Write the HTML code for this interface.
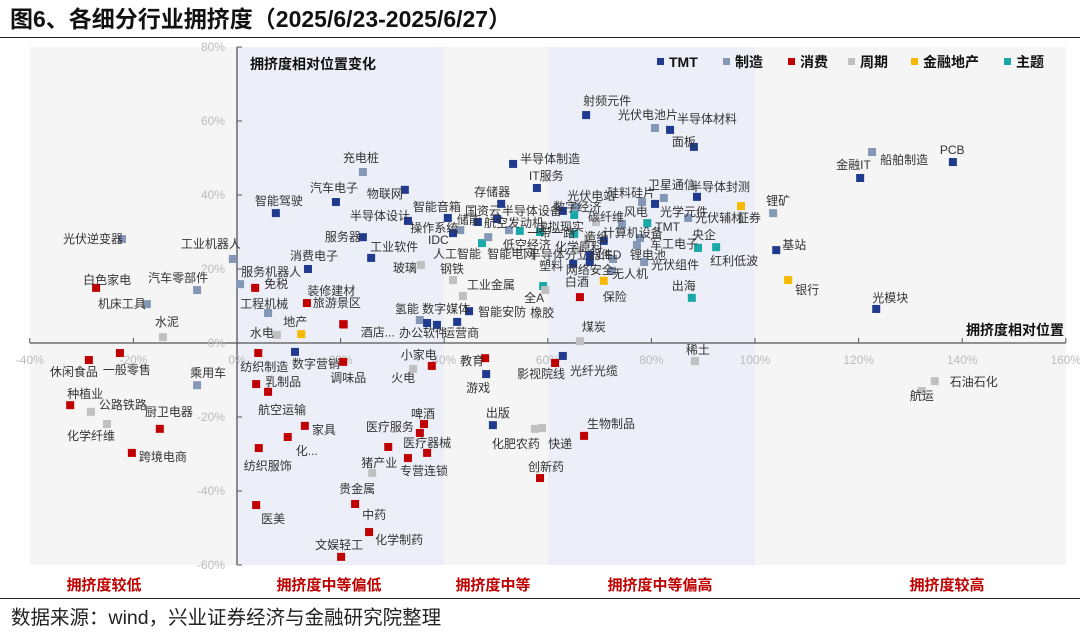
<!DOCTYPE html>
<html><head><meta charset="utf-8">
<style>
body{margin:0;background:#fff;width:1080px;height:635px;overflow:hidden;font-family:"Liberation Sans","Noto Sans CJK SC",sans-serif;}
svg text{font-family:"Liberation Sans","Noto Sans CJK SC",sans-serif;}
</style></head>
<body>
<svg id="chart" width="1080" height="635" viewBox="0 0 1080 635" xmlns="http://www.w3.org/2000/svg">
<text x="10" y="27" font-size="23" font-weight="bold" fill="#111">图6、各细分行业拥挤度（2025/6/23-2025/6/27）</text>
<line x1="0" y1="37.5" x2="1080" y2="37.5" stroke="#222" stroke-width="1"/>
<rect x="30" y="47" width="1036" height="518" fill="#f5f5f5"/>
<rect x="237" y="47" width="207" height="518" fill="#eceff7"/>
<rect x="548" y="47" width="207" height="518" fill="#eceff7"/>
<g id="axes"></g>
<g id="marks"></g>
<text x="250" y="69" font-size="14" font-weight="bold" fill="#111">拥挤度相对位置变化</text>
<text x="1064" y="335" font-size="14" font-weight="bold" fill="#111" text-anchor="end">拥挤度相对位置</text>
<g id="legend"></g>
<g font-size="15" font-weight="bold" fill="#c00000" text-anchor="middle">
<text x="104" y="590">拥挤度较低</text>
<text x="329" y="590">拥挤度中等偏低</text>
<text x="493" y="590">拥挤度中等</text>
<text x="660" y="590">拥挤度中等偏高</text>
<text x="947" y="590">拥挤度较高</text>
</g>
<line x1="0" y1="598.5" x2="1080" y2="598.5" stroke="#222" stroke-width="1"/>
<text x="11" y="624" font-size="19.5" fill="#222">数据来源：wind，兴业证券经济与金融研究院整理</text>
</svg>
<script>
const xTicks=[-40,-20,0,20,40,60,80,100,120,140,160];
const yTicks=[-60,-40,-20,0,20,40,60,80];
const catNames=["TMT","制造","消费","周期","金融地产","主题"];
const catKeys=["T","M","C","P","F","Z"];
const names=["光伏逆变器","白色家电","机床工具","汽车零部件","工业机器人","水泥","休闲食品","一般零售","乘用车","种植业","公路铁路","厨卫电器","化学纤维","跨境电商","充电桩","汽车电子","物联网","智能驾驶","半导体设计","智能音箱","操作系统","IDC","储能","存储器","国资云","航空发动机","服务器","工业软件","人工智能","智能电网","消费电子","玻璃","钢铁","服务机器人","免税","旅游景区","装修建材","酒店...","工程机械","工业金属","氢能","数字媒体","智能安防","地产","水电","办公软件","运营商","射频元件","光伏电池片","半导体材料","面板","半导体制造","IT服务","光伏电站","数字经济","半导体设备","硅料硅片","卫星通信","半导体封测","光学元件","TMT","风电","碳纤维","光伏辅材","证券","虚拟现实","一带一路","造纸","计算机设备","低空经济","化学原料","半导体分立器件","LED","锂电池","军工电子","光伏组件","央企","红利低波","塑料","网络安全","无人机","保险","白酒","全A","橡胶","出海","煤炭","稀土","锂矿","基站","银行","金融IT","船舶制造","PCB","光模块","石油石化","航运","纺织制造","数字营销","调味品","小家电","火电","教育","游戏","光纤光缆","影视院线","乳制品","航空运输","家具","化...","纺织服饰","啤酒","医疗服务","医疗器械","","专营连锁","猪产业","出版","化肥农药","快递","生物制品","创新药","贵金属","中药","医美","化学制药","文娱轻工"];
const cats=["M","C","M","M","M","P","C","C","M","C","P","C","P","C","M","T","T","T","T","T","M","T","T","T","T","M","T","T","Z","M","T","P","P","M","C","C","C","C","M","P","M","T","T","F","P","T","T","T","M","T","T","T","T","M","Z","T","M","M","T","T","Z","M","P","M","F","Z","Z","P","T","Z","P","T","M","M","M","M","Z","Z","T","T","M","F","C","Z","P","Z","P","P","M","T","F","T","M","T","T","P","P","C","T","C","C","P","C","T","T","C","C","C","C","C","C","C","C","C","C","C","P","T","P","P","C","C","P","C","C","C","C"];
const xVals=[-22.2,-27.2,-17.4,-7.7,-0.8,-14.3,-28.6,-22.6,-7.7,-32.2,-28.2,-14.9,-25.1,-20.3,24.3,19.1,32.4,7.5,33.0,40.7,43.1,41.7,46.5,51.0,50.2,52.5,24.3,25.9,47.3,48.5,13.7,35.5,41.7,0.6,3.5,13.5,20.5,20.6,6.0,43.6,35.3,36.7,44.8,12.4,7.7,38.6,42.5,67.4,80.7,83.6,88.2,53.3,57.9,65.3,65.1,62.9,78.2,82.4,88.8,80.7,79.2,74.3,69.3,87.1,97.3,58.5,65.1,67.8,70.8,54.6,65.8,68.1,72.6,77.2,77.8,78.6,89.0,92.5,64.9,68.1,72.4,70.8,66.2,59.1,59.5,87.8,66.2,88.4,103.5,104.1,106.4,120.3,122.6,138.2,123.4,134.7,132.2,4.1,11.2,20.5,37.6,34.0,47.9,48.1,62.9,61.4,3.7,6.0,13.1,9.8,4.2,36.1,35.3,36.7,29.2,33.0,26.1,49.4,57.5,58.9,67.0,58.5,22.8,22.8,3.7,25.5,20.1];
const yVals=[28.1,14.9,10.5,14.3,22.7,1.6,-4.6,-2.7,-11.4,-16.8,-18.6,-23.2,-21.9,-29.7,46.2,38.1,41.4,35.1,33.0,33.8,30.5,29.7,32.7,37.6,33.5,30.5,28.6,23.0,27.0,28.6,20.0,21.1,17.0,15.9,14.9,10.8,5.1,5.0,8.1,12.7,6.2,5.4,8.6,2.4,2.2,4.9,5.7,61.6,58.1,57.6,53.0,48.4,41.9,36.8,34.6,35.7,38.1,39.2,39.5,37.6,32.4,32.2,32.7,33.8,37.0,30.0,29.5,28.4,27.6,30.3,25.1,23.8,22.7,26.5,28.4,21.9,25.7,25.9,21.4,21.9,19.5,16.8,12.4,15.4,14.3,12.2,0.5,-4.9,35.1,25.1,17.0,44.6,51.6,48.9,9.2,-10.3,-13.0,-2.7,-2.4,-5.1,-6.2,-7.0,-4.1,-8.4,-3.5,-5.4,-11.1,-13.2,-22.4,-25.4,-28.4,-21.9,-24.3,-29.7,-28.1,-31.1,-35.1,-22.2,-23.2,-23.0,-25.1,-36.5,-43.5,-43.5,-43.8,-51.1,-57.8];
// label layout offsets (pixels relative to marker), not data
const labelDx=[-59,-13,-49,-49,-52,-8,-39,-17,-7,-3,8,-15,-40,7,-20,-26,-38,-21,-58,-35,-50,-25,-21,-27,-32,-25,-38,-1,-49,-1,-18,-28,-13,1,9,6,-36,17,-28,4,-25,-5,9,-18,-27,-38,-14,-3,-37,7,-22,7,-8,-8,-21,-61,-35,-16,-7,5,8,2,-8,7,-4,-4,-47,-4,-1,-17,-23,-61,-15,-7,10,7,-6,-6,-34,-24,0,-1,-15,-19,-15,-20,2,-9,-7,6,7,-24,8,-13,-4,15,-12,-18,-3,-13,-31,-22,-25,-20,7,-38,9,-10,7,8,-15,-13,-54,-24,0,-8,-11,-7,-43,6,3,-12,-16,7,5,6,-26];
const labelDy=[0,-8,0,-12,-15,-15,12,17,-12,-11,-7,-17,12,4,-14,-14,4,-12,-5,-11,-2,7,-2,-12,-8,-7,0,-11,11,17,-13,3,-11,-12,-4,0,-33,8,-9,-11,-11,-14,1,-12,-2,8,11,-14,-13,-11,-5,-5,-12,-11,-8,0,-9,-13,-10,8,4,-12,-5,0,12,-5,-1,-1,-8,14,-3,0,-4,10,6,3,-13,14,2,8,3,16,-15,12,23,-12,-14,-11,-12,-5,10,-13,8,-12,-11,1,5,14,12,16,-11,9,3,14,15,11,-2,18,4,14,18,-10,-6,-10,0,13,-10,-12,15,16,-12,-11,-15,11,14,8,-12];
const colors={T:"#1f3a8f",M:"#8497b6",C:"#c00000",P:"#c0c0c0",F:"#f7b900",Z:"#1aa8a8"};
const X0=237,XS=5.18,Y0=343,YS=3.7;
function sx(v){return X0+v*XS;}
function sy(v){return Y0-v*YS;}
const NS="http://www.w3.org/2000/svg";
function mk(tag,attrs,parent){const e=document.createElementNS(NS,tag);for(const k in attrs)e.setAttribute(k,attrs[k]);parent.appendChild(e);return e;}
const axes=document.getElementById('axes');
const yAxis=mk('line',{x1:sx(0),y1:sy(80),x2:sx(0),y2:sy(-60),stroke:"#555","stroke-width":1.3},axes);


const xAxis=mk('line',{x1:sx(-40),y1:sy(0),x2:sx(160),y2:sy(0),stroke:"#555","stroke-width":1.3},axes);


xTicks.forEach(v=>{
  const t=mk('line',{x1:sx(v),y1:sy(0),x2:sx(v),y2:sy(0)-5,stroke:"#555"},axes);
  
  
  const l=mk('text',{x:sx(v),y:sy(0)+21,"font-size":12,fill:"#bbb","text-anchor":"middle"},axes);
  l.textContent=v+"%";
  
  
});
yTicks.forEach(v=>{
  const t=mk('line',{x1:sx(0),y1:sy(v),x2:sx(0)+5,y2:sy(v),stroke:"#555"},axes);
  
  
  const l=mk('text',{x:sx(0)-12,y:sy(v)+4,"font-size":12,fill:"#bbb","text-anchor":"end"},axes);
  l.textContent=v+"%";
  
  
});
const marks=document.getElementById('marks');
names.forEach((n,i)=>{
  const cx=sx(xVals[i]),cy=sy(yVals[i]);
  const r=mk('rect',{x:cx-4,y:cy-4,width:8,height:8,fill:colors[cats[i]]},marks);
  
  
});
names.forEach((n,i)=>{
  if(!n)return;
  const cx=sx(xVals[i]),cy=sy(yVals[i]);
  const t=mk('text',{x:cx+labelDx[i],y:cy+labelDy[i]+4,"font-size":12,fill:"#333"},marks);
  t.textContent=n;
  
  
});
const legend=document.getElementById('legend');
const legX=[657,723,788,848,911,1004];
catKeys.forEach((k,i)=>{
  const s=mk('rect',{x:legX[i],y:58,width:7,height:7,fill:colors[k]},legend);
  
  
  const t=mk('text',{x:legX[i]+12,y:67,"font-size":14,"font-weight":"bold",fill:"#111"},legend);
  t.textContent=catNames[i];
  
  
});
</script>
</body></html>
